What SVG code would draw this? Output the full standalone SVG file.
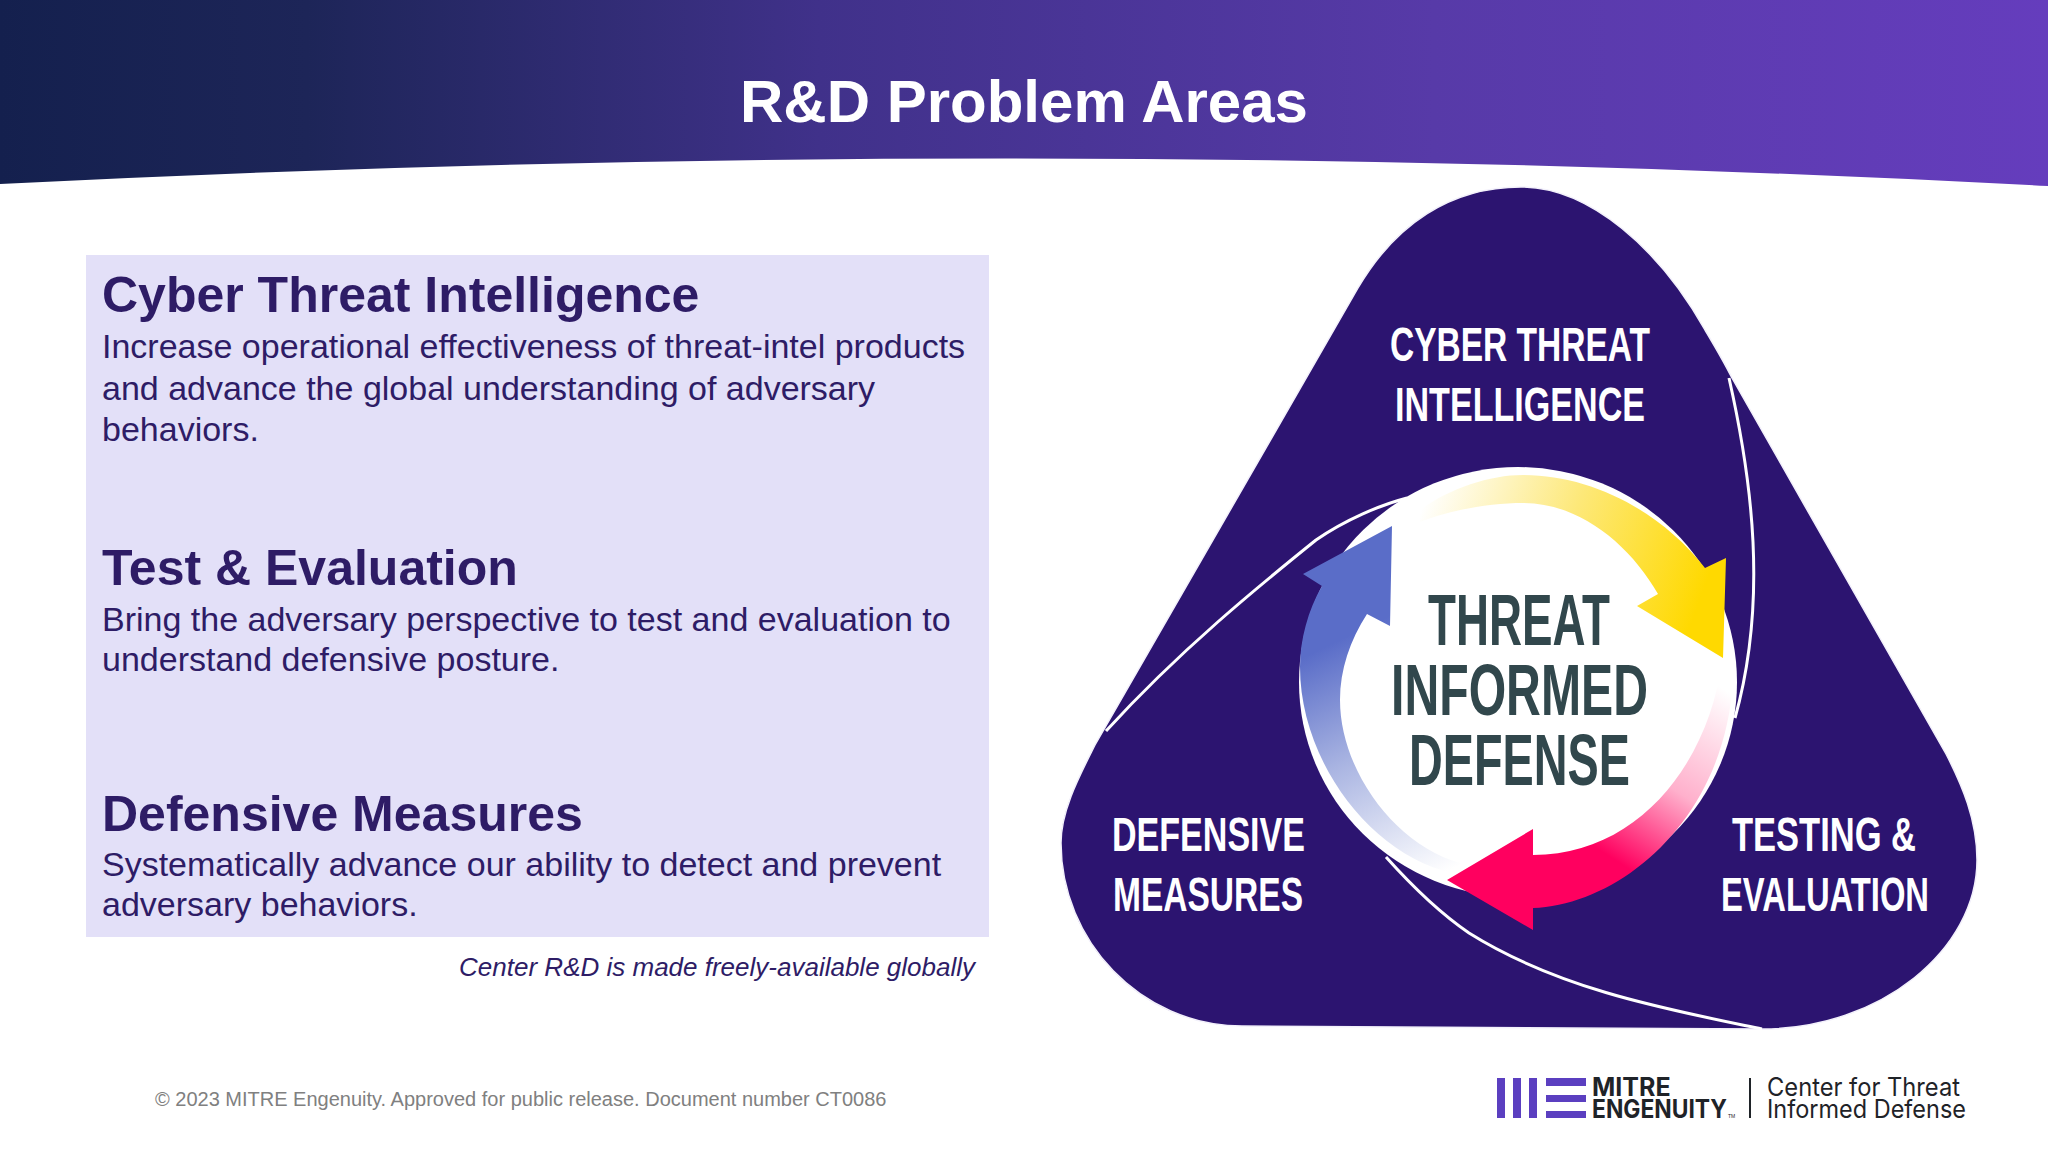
<svg xmlns="http://www.w3.org/2000/svg" width="2048" height="1152" viewBox="0 0 2048 1152">
<style>
text{font-family:"Liberation Sans",Arial,sans-serif}
.h{font-size:50px;font-weight:700;fill:#2e1c66}
.b{font-size:34px;fill:#2e1c66}
.c{font-family:"Liberation Sans Narrow","Liberation Sans",sans-serif;font-weight:700}
.l{font-size:48px;fill:#fff}
.t{font-size:72px;fill:#31474c}
.ln{fill:none;stroke:#fff;stroke-width:3}
.lg{font-family:Inter,sans-serif;font-size:25px;fill:#1f2328}
</style>
<defs>
<linearGradient id="hdr" x1="0" y1="0" x2="2048" y2="0" gradientUnits="userSpaceOnUse"><stop offset="0" stop-color="#14204e"/><stop offset=".15" stop-color="#1d2558"/><stop offset=".4" stop-color="#40318a"/><stop offset=".7" stop-color="#573aa8"/><stop offset="1" stop-color="#653dbd"/></linearGradient>
<linearGradient id="yel" x1="1425" y1="500" x2="1700" y2="600" gradientUnits="userSpaceOnUse"><stop offset="0" stop-color="#fff"/><stop offset=".5" stop-color="#fde878"/><stop offset="1" stop-color="#ffd900"/></linearGradient>
<linearGradient id="mag" x1="1725" y1="690" x2="1615" y2="860" gradientUnits="userSpaceOnUse"><stop offset="0" stop-color="#fff"/><stop offset=".55" stop-color="#ffb0cc"/><stop offset="1" stop-color="#ff005f"/></linearGradient>
<linearGradient id="blu" x1="1340" y1="640" x2="1450" y2="870" gradientUnits="userSpaceOnUse"><stop offset="0" stop-color="#5a6dc8"/><stop offset=".45" stop-color="#aab5e2"/><stop offset="1" stop-color="#fff"/></linearGradient>
</defs>
<rect width="2048" height="1152" fill="#fff"/>
<g id="header">
<path d="M0,0H2048V186Q1024,132 0,184Z" fill="url(#hdr)"/>
<text x="1024" y="122" text-anchor="middle" font-size="60" font-weight="700" fill="#fff">R&amp;D Problem Areas</text>
</g>
<g id="panel">
<rect x="86" y="255" width="903" height="682" fill="#e3e0f8"/>
<text class="h" x="102" y="312">Cyber Threat Intelligence</text>
<text class="b" x="102" y="358">Increase operational effectiveness of threat-intel products</text>
<text class="b" x="102" y="400">and advance the global understanding of adversary</text>
<text class="b" x="102" y="441">behaviors.</text>
<text class="h" x="102" y="585">Test &amp; Evaluation</text>
<text class="b" x="102" y="631">Bring the adversary perspective to test and evaluation to</text>
<text class="b" x="102" y="671">understand defensive posture.</text>
<text class="h" x="102" y="831">Defensive Measures</text>
<text class="b" x="102" y="876">Systematically advance our ability to detect and prevent</text>
<text class="b" x="102" y="916">adversary behaviors.</text>
<text x="975" y="976" text-anchor="end" font-size="26" font-style="italic" fill="#2e1c66">Center R&amp;D is made freely-available globally</text>
</g>
<g id="triangle">
<path d="M1521,187C1590,187 1660,250 1705,330C1720,355 1728,370 1732,378L1946,754C1962,785 1977,820 1977,860C1977,950 1880,1029 1762,1029L1242,1026C1140,1026 1061,940 1061,843C1061,810 1080,775 1095,745L1358,288C1395,225 1450,187 1521,187Z" fill="#2c1470" stroke="#f3f1fb" stroke-width="1.5"/>
</g>
<g id="connectors">
<path class="ln" d="M1729,378C1752,480 1768,600 1735,718"/>
<path class="ln" d="M1106,731C1180,650 1260,585 1316,540C1345,520 1380,505 1407,498"/>
<path class="ln" d="M1386,857C1420,895 1450,920 1469,933C1560,990 1670,1010 1762,1029"/>
</g>
<g id="center">
<ellipse cx="1518" cy="682" rx="219" ry="215" fill="#fff"/>
<path d="M1420,510C1450,488 1490,475 1523,475C1590,475 1660,510 1705,568L1726,558L1723,658L1637,606L1658,594C1630,545 1580,503 1523,503C1490,503 1450,510 1420,522Z" fill="url(#yel)"/>
<path d="M1533,829L1447,880L1533,930L1533,908C1620,905 1725,820 1733,680L1722,660C1710,760 1640,855 1533,855Z" fill="url(#mag)"/>
<path d="M1392,526L1390,626L1367,614C1350,640 1340,670 1340,700C1340,770 1395,845 1460,863L1453,873C1370,855 1300,760 1300,667C1300,640 1308,610 1322,586L1303,574Z" fill="url(#blu)"/>
<text class="c t" x="1428" y="645" textLength="182" lengthAdjust="spacingAndGlyphs">THREAT</text>
<text class="c t" x="1391" y="715" textLength="257" lengthAdjust="spacingAndGlyphs">INFORMED</text>
<text class="c t" x="1409" y="785" textLength="221" lengthAdjust="spacingAndGlyphs">DEFENSE</text>
</g>
<g id="node-cti">
<text class="c l" x="1390" y="361" textLength="260" lengthAdjust="spacingAndGlyphs">CYBER THREAT</text>
<text class="c l" x="1395" y="421" textLength="250" lengthAdjust="spacingAndGlyphs">INTELLIGENCE</text>
</g>
<g id="node-dm">
<text class="c l" x="1112" y="851" textLength="193" lengthAdjust="spacingAndGlyphs">DEFENSIVE</text>
<text class="c l" x="1113" y="911" textLength="190" lengthAdjust="spacingAndGlyphs">MEASURES</text>
</g>
<g id="node-te">
<text class="c l" x="1732" y="851" textLength="184" lengthAdjust="spacingAndGlyphs">TESTING &amp;</text>
<text class="c l" x="1721" y="911" textLength="208" lengthAdjust="spacingAndGlyphs">EVALUATION</text>
</g>
<g id="footer">
<text x="155" y="1106" font-size="20" fill="#808080">© 2023 MITRE Engenuity. Approved for public release. Document number CT0086</text>
<g fill="#5b3fc0">
<rect x="1497" y="1078" width="8" height="40"/><rect x="1513" y="1078" width="8" height="40"/><rect x="1529" y="1078" width="8" height="40"/>
<rect x="1546" y="1078" width="40" height="8"/><rect x="1546" y="1095" width="40" height="7"/><rect x="1546" y="1111" width="40" height="7"/>
</g>
<text class="lg" x="1592" y="1096" font-weight="700">MITRE</text>
<text class="lg" x="1592" y="1118" font-weight="700" textLength="135" lengthAdjust="spacingAndGlyphs">ENGENUITY</text>
<text x="1728" y="1118" font-size="5" fill="#1f2328">TM</text>
<rect x="1749" y="1078" width="2" height="40" fill="#1f2328"/>
<text class="lg" x="1767" y="1096" textLength="193" lengthAdjust="spacingAndGlyphs">Center for Threat</text>
<text class="lg" x="1767" y="1118" textLength="199" lengthAdjust="spacingAndGlyphs">Informed Defense</text>
</g>
</svg>
